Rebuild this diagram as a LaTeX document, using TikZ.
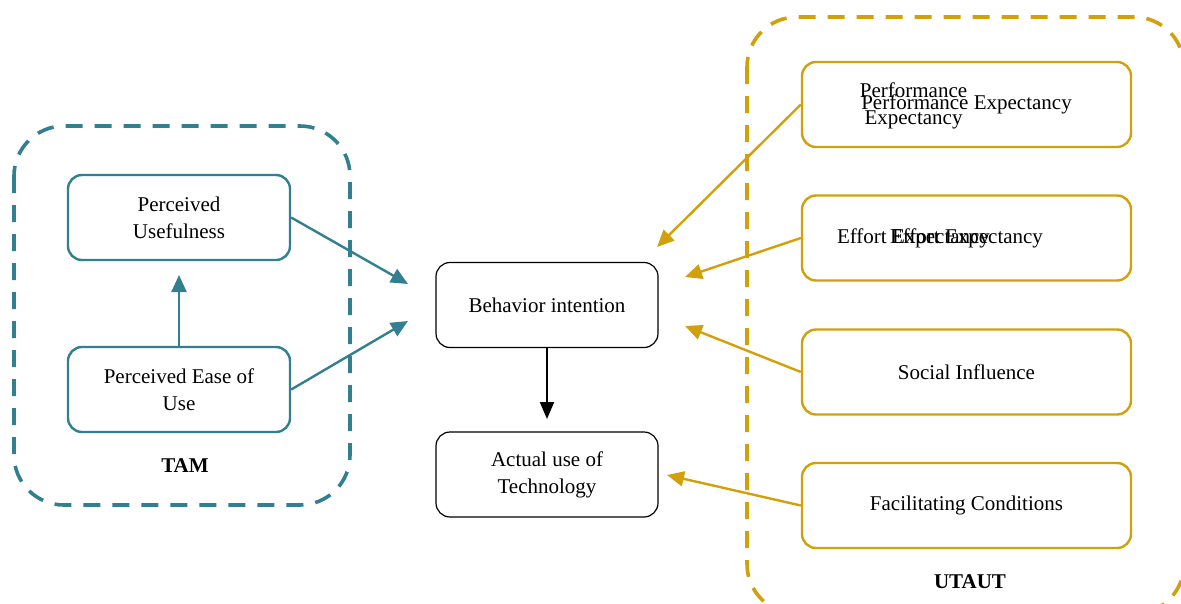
\documentclass[tikz,border=0pt]{standalone}
\usepackage{fontspec}
\setmainfont{Liberation Serif}
\usetikzlibrary{arrows.meta,positioning}
\definecolor{tamteal}{HTML}{317F91}
\definecolor{utgold}{HTML}{D2A00A}
\definecolor{ink}{HTML}{000000}
\tikzset{
  box/.style={rounded corners=14pt, minimum width=222pt, minimum height=85pt, align=center, inner sep=4pt, font=\fontsize{21}{27}\selectfont, line width=2.4pt},
  tambox/.style={box, draw=tamteal},
  utbox/.style={box, draw=utgold, minimum width=329pt},
  blkbox/.style={box, draw=ink, line width=1.2pt},
  ghost/.style={align=center, font=\fontsize{21}{27}\selectfont, inner sep=0pt},
  group/.style={line width=3.6pt, dash pattern=on 17pt off 12pt, rounded corners=50pt},
  grouplab/.style={font=\bfseries\fontsize{21}{27}\selectfont},
  tamarrow/.style={draw=tamteal, line width=2.4pt, -{Triangle[length=17pt,width=15pt]}},
  utarrow/.style={draw=utgold, line width=2.4pt, -{Triangle[length=17pt,width=15pt]}},
  blkarrow/.style={draw=ink, line width=2pt, -{Triangle[length=17pt,width=14pt]}},
}
\begin{document}
\begin{tikzpicture}[x=1pt,y=-1pt]
\useasboundingbox (0,0) rectangle (1181,603);

% groups
\draw[group, draw=tamteal] (14,126) rectangle (350,505);
\draw[group, draw=utgold] (747,17) rectangle (1184,614);
\node[grouplab] (tam) at (185,466) {TAM};
\node[grouplab] (utaut) at (970,582) {UTAUT};

% TAM
\node[tambox] (pu) at (179,217.5) {Perceived\\Usefulness};
\node[tambox] (peu) at (179,389.5) {Perceived Ease of\\Use};

% middle
\node[blkbox] (bi) at (547,305) {Behavior intention};
\node[blkbox] (au) at (547,474.5) {Actual use of\\Technology};

% UTAUT
\node[utbox] (pe) at (966.5,104.5) {Performance Expectancy};
\node[ghost] (pe2) at (913.5,105.5) {Performance\\Expectancy};
\node[utbox] (ee) at (966.5,238) {Effort Expectancy};
\node[ghost] (ee2) at (913.5,238) {Effort Expectancy};
\node[utbox] (si) at (966.5,372) {Social Influence};
\node[utbox] (fc) at (966.5,505.5) {Facilitating Conditions};

% arrow tips
\coordinate (t1) at (408,284);
\coordinate (t2) at (408,321);
\coordinate (t3) at (179,275);
\coordinate (t4) at (547,419);
\coordinate (t5) at (657,247);
\coordinate (t6) at (685,277);
\coordinate (t7) at (685,326);
\coordinate (t8) at (667,475);

\draw[tamarrow] (pu.east) -- (t1);
\draw[tamarrow] (peu.east) -- (t2);
\draw[tamarrow] (peu.north) -- (t3);
\draw[blkarrow] (bi.south) -- (t4);
\draw[utarrow] (pe.west) -- (t5);
\draw[utarrow] (ee.west) -- (t6);
\draw[utarrow] (si.west) -- (t7);
\draw[utarrow] (fc.west) -- (t8);
\end{tikzpicture}
\end{document}
